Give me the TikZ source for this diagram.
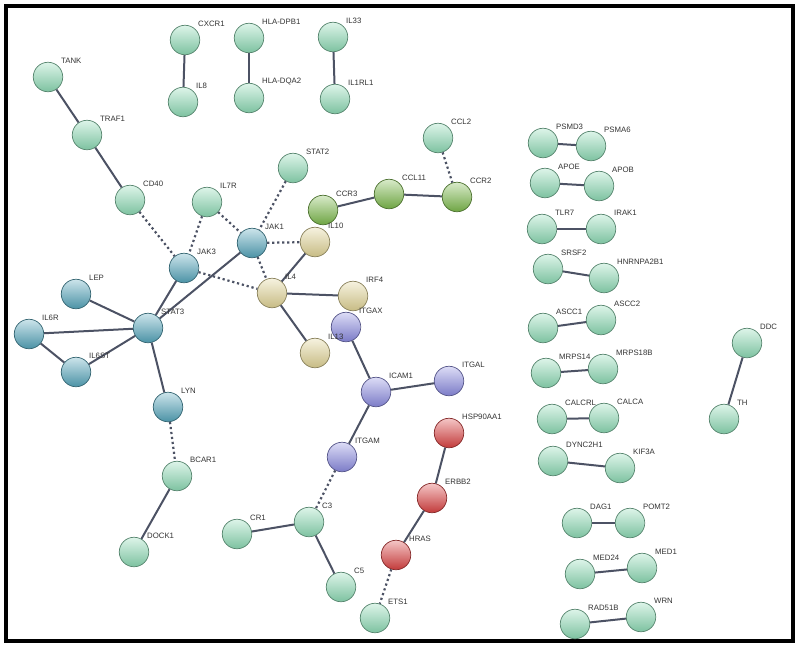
\documentclass[tikz,border=0pt]{standalone}
\usepackage{fontspec}
\setmainfont{Liberation Sans}
\usetikzlibrary{positioning}
\definecolor{ppmint}{HTML}{8EDCB6}
\definecolor{ppteal}{HTML}{55A6BC}
\definecolor{ppsand}{HTML}{E2D596}
\definecolor{ppviolet}{HTML}{8C8CE2}
\definecolor{ppred}{HTML}{DC4242}
\definecolor{ppgreen}{HTML}{7DBB4C}
\definecolor{ppedge}{HTML}{4C5264}
\definecolor{pptext}{HTML}{333333}

\begin{document}
\begin{tikzpicture}[x=1pt,y=-1pt,
    prot/.style={circle,minimum size=29.5pt,inner sep=0pt,draw=#1!60!black,line width=0.7pt,
      top color=#1!30!white,bottom color=#1!88!black},
    gene/.style={font=\fontsize{7.8}{8}\selectfont,text=pptext,inner sep=0pt,anchor=west},
    bond/.style={draw=ppedge,line width=2pt},
    hint/.style={draw=ppedge,line width=2.2pt,dash pattern=on 2.2pt off 2.8pt}]
    \useasboundingbox (0,0) rectangle (800,648);
    \draw[line width=3.8pt] (6,6) rectangle (793,641);
    % proteins: name/x/y/colour
    \foreach \n/\x/\y/\c in {
        CXCR1/185/40/ppmint, IL8/183/102/ppmint, HLA-DPB1/249/38/ppmint, HLA-DQA2/249/98/ppmint,
        IL33/333/37/ppmint, IL1RL1/335/99/ppmint, TANK/48/77/ppmint, TRAF1/87/135/ppmint,
        CD40/130/200/ppmint, IL7R/207/202/ppmint, STAT2/293/168/ppmint,
        CCR3/323/210/ppgreen, CCL11/389/194/ppgreen, CCR2/457/197/ppgreen, CCL2/438/138/ppmint,
        JAK1/252/243/ppteal, JAK3/184/268/ppteal, LEP/76/294/ppteal, STAT3/148/328/ppteal,
        IL6R/29/334/ppteal, IL6ST/76/372/ppteal, LYN/168/407/ppteal,
        IL10/315/242/ppsand, IL4/272/293/ppsand, IRF4/353/296/ppsand, IL13/315/353/ppsand,
        ITGAX/346/327/ppviolet, ICAM1/376/392/ppviolet, ITGAL/449/381/ppviolet, ITGAM/342/457/ppviolet,
        BCAR1/177/476/ppmint, DOCK1/134/552/ppmint, CR1/237/534/ppmint, C3/309/522/ppmint,
        C5/341/587/ppmint, ETS1/375/618/ppmint,
        HSP90AA1/449/433/ppred, ERBB2/432/498/ppred, HRAS/396/555/ppred,
        PSMD3/543/143/ppmint, PSMA6/591/146/ppmint, APOE/545/183/ppmint, APOB/599/186/ppmint,
        TLR7/542/229/ppmint, IRAK1/601/229/ppmint, SRSF2/548/269/ppmint, HNRNPA2B1/604/278/ppmint,
        ASCC1/543/328/ppmint, ASCC2/601/320/ppmint, MRPS14/546/373/ppmint, MRPS18B/603/369/ppmint,
        DDC/747/343/ppmint, TH/724/419/ppmint, CALCRL/552/419/ppmint, CALCA/604/418/ppmint,
        DYNC2H1/553/461/ppmint, KIF3A/620/468/ppmint, DAG1/577/523/ppmint, POMT2/630/523/ppmint,
        MED24/580/574/ppmint, MED1/642/568/ppmint, RAD51B/575/624/ppmint, WRN/641/617/ppmint} {
      \node[prot=\c] (\n) at (\x,\y) {};
    }
    % interactions
    \foreach \a/\b in {CXCR1/IL8, HLA-DPB1/HLA-DQA2, IL33/IL1RL1, TANK/TRAF1, TRAF1/CD40,
        JAK1/STAT3, JAK3/STAT3, LEP/STAT3, IL6R/STAT3, IL6ST/STAT3, IL6R/IL6ST, STAT3/LYN,
        BCAR1/DOCK1, IL10/IL4, IL4/IRF4, IL4/IL13, CCR3/CCL11, CCL11/CCR2,
        ITGAX/ICAM1, ICAM1/ITGAL, ICAM1/ITGAM, C3/CR1, C3/C5, HSP90AA1/ERBB2, ERBB2/HRAS,
        PSMD3/PSMA6, APOE/APOB, TLR7/IRAK1, SRSF2/HNRNPA2B1, ASCC1/ASCC2, MRPS14/MRPS18B,
        CALCRL/CALCA, DYNC2H1/KIF3A, DAG1/POMT2, MED24/MED1, RAD51B/WRN, DDC/TH}
      \draw[bond] (\a) -- (\b);
    \foreach \a/\b in {CD40/JAK3, IL7R/JAK3, IL7R/JAK1, STAT2/JAK1, JAK1/IL10, JAK1/IL4,
        JAK3/IL4, LYN/BCAR1, CCL2/CCR2, ITGAM/C3, HRAS/ETS1}
      \draw[hint] (\a) -- (\b);
    % gene labels
    \foreach \n in {CXCR1, IL8, HLA-DPB1, HLA-DQA2, IL33, IL1RL1, TANK, TRAF1, CD40, IL7R, STAT2,
        CCR3, CCL11, CCR2, CCL2, JAK1, JAK3, LEP, STAT3, IL6R, IL6ST, LYN, IL10, IL4, IRF4, IL13,
        ITGAX, ICAM1, ITGAL, ITGAM, BCAR1, DOCK1, CR1, C3, C5, ETS1, HSP90AA1, ERBB2, HRAS,
        PSMD3, PSMA6, APOE, APOB, TLR7, IRAK1, SRSF2, HNRNPA2B1, ASCC1, ASCC2, MRPS14, MRPS18B,
        DDC, TH, CALCRL, CALCA, DYNC2H1, KIF3A, DAG1, POMT2, MED24, MED1, RAD51B, WRN}
      \node[gene] (\n-t) at ([shift={(13,-16)}]\n.center) {\n};
  \end{tikzpicture}
\end{document}
